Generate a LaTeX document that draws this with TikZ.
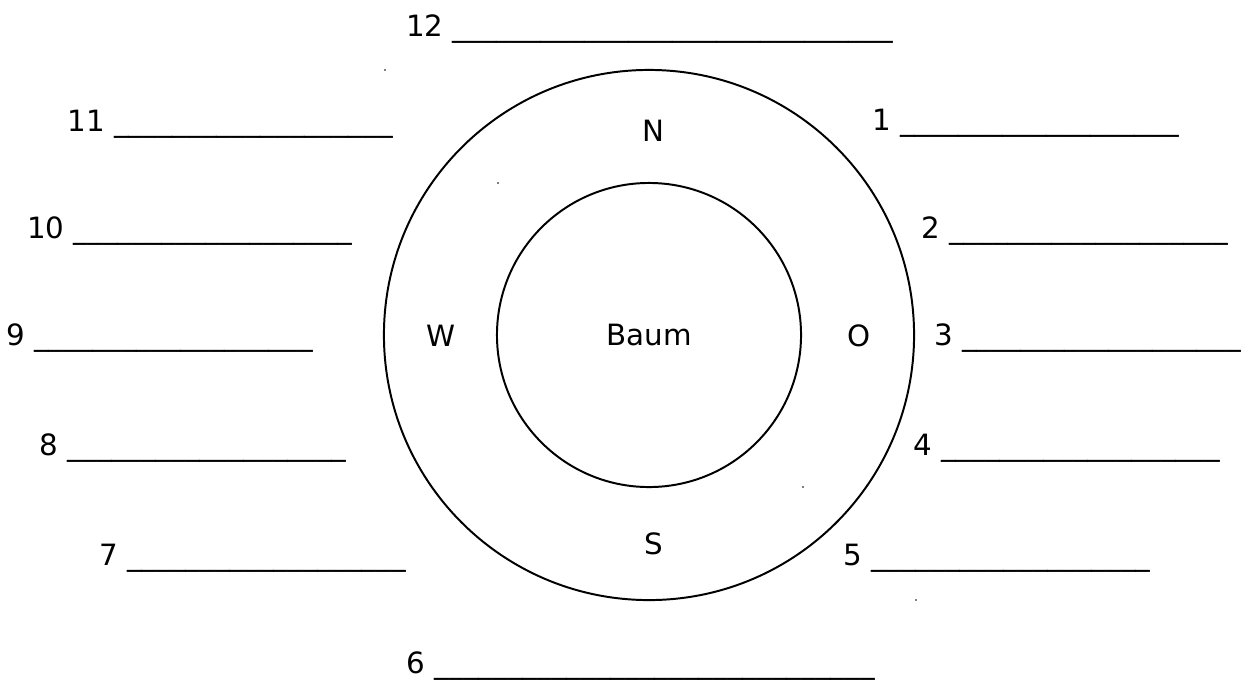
\documentclass[tikz,border=0pt]{standalone}
\usepackage{fontspec}
\setmainfont{DejaVu Sans}
\usetikzlibrary{positioning}

% row of blanks to write into
\newcommand{\fillin}[1]{\foreach \k in {1,...,#1}{\_}}

\begin{document}
\begin{tikzpicture}[
  x=0.025cm, y=-0.025cm,
  font=\fontsize{20.85}{25}\selectfont,
  ring/.style={draw, circle, line width=1.4pt, inner sep=0pt},
  dir/.style={anchor=base, inner sep=0pt},
  slot/.style={anchor=base east, inner sep=0pt},
  speck/.style={fill=gray, inner sep=0pt, minimum size=1.2pt, rectangle},
]
\useasboundingbox (0,0) rectangle (1242,680);

\node[ring, minimum size=13.25cm] (yard) at (649,335) {};
\node[ring, minimum size=7.6cm]   (tree) at (649,335) {Baum};

\node[dir] (north) at (653,141.7) {N};
\node[dir] (south) at (653.5,554) {S};
\node[dir] (west)  at (441,346)   {W};
\node[dir] (east)  at (859,346)   {O};

\node[slot] (s12) at (893,36)     {12 \fillin{30}};
\node[slot] (s11) at (393,131.5)  {11 \fillin{19}};
\node[slot] (s1)  at (1179,130.7) {1 \fillin{19}};
\node[slot] (s10) at (352.7,238)  {10 \fillin{19}};
\node[slot] (s2)  at (1228,238.5) {2 \fillin{19}};
\node[slot] (s9)  at (313,345)    {9 \fillin{19}};
\node[slot] (s3)  at (1241,345)   {3 \fillin{19}};
\node[slot] (s8)  at (346.7,455)  {8 \fillin{19}};
\node[slot] (s4)  at (1220,455)   {4 \fillin{19}};
\node[slot] (s7)  at (406,565)    {7 \fillin{19}};
\node[slot] (s5)  at (1150.7,565) {5 \fillin{19}};
\node[slot] (s6)  at (875,673.5)  {6 \fillin{30}};

% stray marks at the box corners
\node[speck] (m1) at (385,70)  {};
\node[speck] (m2) at (498,183) {};
\node[speck] (m3) at (803,487) {};
\node[speck] (m4) at (916,600) {};
\end{tikzpicture}
\end{document}
